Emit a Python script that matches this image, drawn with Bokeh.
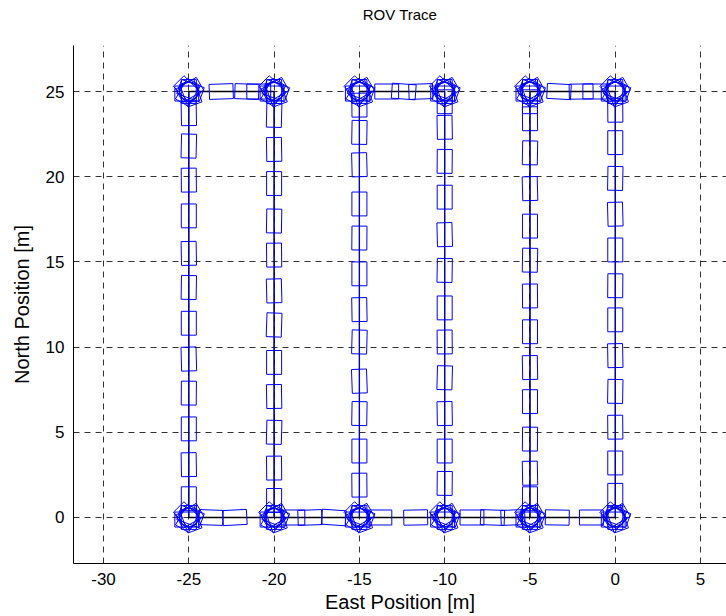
from bokeh.plotting import figure
from bokeh.models import FixedTicker, Range1d, LinearAxis
from bokeh.embed import file_html
from bokeh.resources import INLINE

# ---- data ----
leg_x = [-25, -20, -15, -10, -5, 0]
leg_box_y = [
    [23.7, 21.8, 19.8, 17.7, 15.5, 13.5, 11.4, 9.3, 7.3, 5.2, 3.1, 1.1],
    [23.6, 21.6, 19.6, 17.4, 15.4, 13.3, 11.3, 9.1, 7.1, 5.0, 2.9, 1.0],
    [24.2, 22.6, 20.7, 18.4, 16.4, 14.3, 12.2, 10.3, 8.0, 6.1, 3.9, 1.9],
    [24.4, 22.9, 20.9, 18.8, 16.6, 14.5, 12.3, 10.3, 8.2, 6.1, 3.9, 2.0],
    [24.4, 23.4, 21.4, 19.3, 17.1, 15.1, 13.0, 10.9, 8.8, 6.8, 4.6, 2.6, 1.1],
    [23.9, 22.0, 19.9, 17.8, 15.7, 13.6, 11.6, 9.5, 7.4, 5.3, 3.2, 1.3],
]
leg_box_tilt = [
    [1, -1.5, 0.5, 0, 1, -1, 0, 1.5, -0.5, 0, 1, 0],
    [-1.5, 1, 0, -1, 0.5, 1.5, -2, 0, 1, -1.5, 0.5, 0],
    [0.5, -1, 1.5, 0, -0.5, 0, 1, -1.5, 2, -1, 0, 0.5],
    [0, 1, -0.5, 0, 1.5, -1, 0, 0.5, -1.5, 1, 0, -0.5],
    [0, 0.5, -1, 1.5, 0, -1, 0.5, 0, 1, 0, -0.5, 1, 0],
    [0.5, 0, -1, 1.5, 0, -0.5, 0, 1, -1, 0.5, 0, 0],
]
top_box_x = [-23.1, -21.6, -20.9, -13.4, -12.4, -11.4, -3.3, -2.0, -1.2]
top_box_tilt = [92, 88, 90, 90, 86, 92, 87, 91, 90]
bottom_box_x = [-23.7, -22.3, -18.9, -17.9, -16.5, -13.8, -11.7, -8.4, -7.2, -6.0, -3.4, -1.4]
bottom_box_tilt = [88, 93, 90, 92, 86, 90, 91, 90, 88, 92, 89, 90]
turn_heading = [0, 20, 45, 70, 90, 120, 150]
turn_dx = [0.0, 0.12, -0.1, 0.1, -0.12, 0.05, -0.05]
turn_dy = [0.0, -0.1, 0.12, 0.05, -0.12, 0.1, -0.05]
corner_y = [0, 25]
route_x = [0, 0, -5, -5, -10, -10, -15, -15, -20, -20, -25, -25, 0]
route_y = [0, 25, 25, 0, 0, 25, 25, 0, 0, 25, 25, 0, 0]
x_ticks = [-30, -25, -20, -15, -10, -5, 0, 5]
x_tick_labels = ["-30", "-25", "-20", "-15", "-10", "-5", "0", "5"]
y_ticks = [0, 5, 10, 15, 20, 25]
title_text = "ROV Trace"

BLUE = "#0000ff"
FONT = "Liberation Sans"

p = figure(width=726, height=616, output_backend="svg", toolbar_location=None,
           x_range=Range1d(-31.76, 6.52), y_range=Range1d(-2.7, 27.7),
           min_border_left=73, min_border_right=0, min_border_top=45,
           min_border_bottom=53)
p.outline_line_color = None
p.background_fill_color = "white"
p.border_fill_color = "white"

xax = p.below[0]
yax = p.left[0]

# title drawn as the label of a bare axis above the frame
title_axis = LinearAxis(ticker=FixedTicker(ticks=[]), axis_label=title_text,
                        axis_line_color=None, major_tick_line_color=None,
                        minor_tick_line_color=None,
                        major_label_text_font_size="0px",
                        axis_label_text_font=FONT,
                        axis_label_text_font_size="15px",
                        axis_label_text_font_style="normal",
                        axis_label_text_color="black",
                        axis_label_standoff=23)
p.add_layout(title_axis, "above")

xax.ticker = FixedTicker(ticks=x_ticks)
yax.ticker = FixedTicker(ticks=y_ticks)
xax.major_label_overrides = {t: s for t, s in zip(x_ticks, x_tick_labels)}
for ax in (xax, yax):
    ax.major_label_text_font = FONT
    ax.major_label_text_font_size = "17px"
    ax.major_label_text_color = "black"
    ax.axis_label_text_font = FONT
    ax.axis_label_text_font_size = "20px"
    ax.axis_label_text_font_style = "normal"
    ax.axis_label_text_color = "black"
    ax.axis_line_color = "black"
    ax.major_tick_in = 0
    ax.major_tick_out = 0
    ax.minor_tick_line_color = None
xax.axis_label = "East Position [m]"
yax.axis_label = "North Position [m]"
xax.major_label_standoff = 9
yax.major_label_standoff = 9
xax.axis_label_standoff = 3
yax.axis_label_standoff = 10

p.xgrid.ticker = FixedTicker(ticks=x_ticks)
p.ygrid.ticker = FixedTicker(ticks=y_ticks)
p.grid.grid_line_color = "black"
p.grid.grid_line_dash = "6 5"
p.grid.grid_line_width = 1
p.grid.grid_line_alpha = 0.8

# boxes along the survey legs
bx, by, ba = [], [], []
for lx, ys, ts in zip(leg_x, leg_box_y, leg_box_tilt):
    for yy, tt in zip(ys, ts):
        bx.append(lx); by.append(yy); ba.append(tt)
for xx, tt in zip(top_box_x, top_box_tilt):
    bx.append(xx); by.append(25); ba.append(tt)
for xx, tt in zip(bottom_box_x, bottom_box_tilt):
    bx.append(xx); by.append(0); ba.append(tt)
# turning clusters at the corners
cx, cy = [], []
for lx in leg_x:
    for cyy in corner_y:
        cx.append(lx); cy.append(cyy)
        for h, ddx, ddy in zip(turn_heading, turn_dx, turn_dy):
            bx.append(lx + ddx); by.append(cyy + ddy); ba.append(h)

# route (black) and blue track along the legs
p.line(route_x, route_y, line_color="black", line_width=1.3)
for lx in leg_x:
    p.line([lx, lx], corner_y, line_color=BLUE, line_width=1)

p.rect(bx, by, width=0.88, height=1.4, angle=ba, angle_units="deg",
       fill_color=None, line_color=BLUE, line_width=1)
p.circle(cx, cy, radius=0.55, fill_color=None, line_color=BLUE, line_width=1.5)

open("out.html", "w").write(file_html(p, INLINE))
